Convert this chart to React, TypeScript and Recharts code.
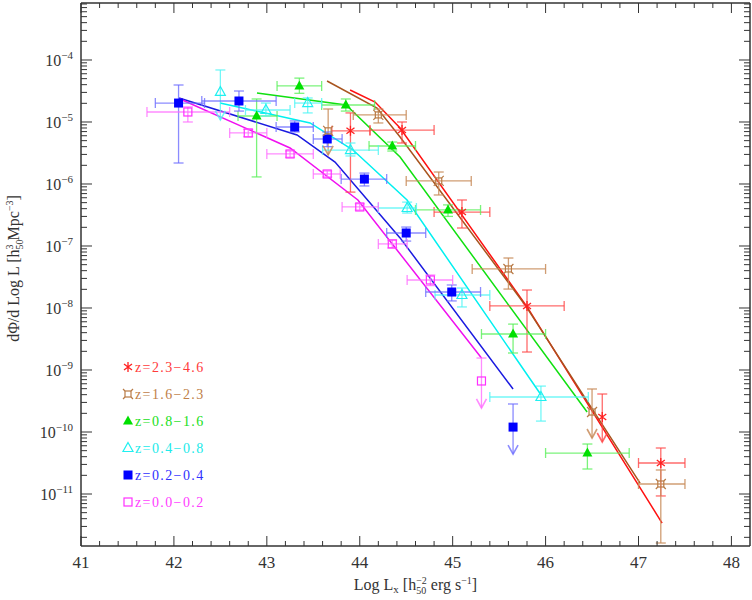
import React from 'react';
import { ComposedChart, Line, Scatter, XAxis, YAxis, ErrorBar, ReferenceLine, Legend } from 'recharts';

const FONT = '"Liberation Serif", "DejaVu Serif", serif';
const AXIS = '#333';

// points: [x, y, xLow, xHigh, yLow, yHigh]
// limits: [x, y, stemTop, arrowTip]
// model:  [x, y]
const magentaPts = [
  [42.15, 1.45e-5, 41.71, 42.6, 1.0e-5, 1.75e-5],
  [42.8, 6.65e-6, 42.6, 43.0, 5.8e-6, 7.6e-6],
  [43.25, 3.05e-6, 43.0, 43.5, 2.7e-6, 3.4e-6],
  [43.65, 1.45e-6, 43.5, 43.79, 1.3e-6, 1.62e-6],
  [44.0, 4.26e-7, 43.81, 44.2, 3.8e-7, 4.8e-7],
  [44.35, 1.08e-7, 44.2, 44.51, 9.3e-8, 1.25e-7],
  [44.76, 2.83e-8, 44.51, 45.0, 2.3e-8, 3.4e-8],
];
const magentaLim = [[45.31, 6.65e-10, 1.56e-9, 2.44e-10]];
const magentaModel = [[42.066, 2.35e-5], [43.25, 3.81e-6], [43.98, 5.52e-7], [45.31, 1.56e-9]];

const bluePts = [
  [42.05, 2.02e-5, 41.8, 42.33, 2.18e-6, 3.95e-5],
  [42.7, 2.18e-5, 42.3, 43.1, 1.5e-5, 3.16e-5],
  [43.3, 8.3e-6, 43.1, 43.5, 6.9e-6, 1.04e-5],
  [43.65, 5.32e-6, 43.5, 43.81, 4.0e-6, 6.9e-6],
  [44.05, 1.2e-6, 43.8, 44.29, 9.3e-7, 1.5e-6],
  [44.5, 1.62e-7, 44.29, 44.71, 1.2e-7, 2.02e-7],
  [44.99, 1.81e-8, 44.71, 45.3, 1.3e-8, 2.35e-8],
];
const blueLim = [[45.65, 1.2e-10, 2.83e-10, 4.4e-11]];
const blueModel = [[42.055, 2.44e-5], [43.325, 6.17e-6], [43.734, 2.26e-6], [44.434, 1.35e-7], [45.65, 4.94e-10]];

const cyanPts = [
  [42.99, 1.56e-5, 42.77, 43.25, 1.25e-5, 2.02e-5],
  [43.44, 2.02e-5, 43.3, 43.59, 1.4e-5, 2.44e-5],
  [43.9, 3.53e-6, 43.6, 44.2, 2.83e-6, 4.58e-6],
  [44.51, 4.1e-7, 44.2, 44.61, 3.4e-7, 5.1e-7],
  [45.1, 1.62e-8, 44.81, 45.4, 1.04e-8, 2.1e-8],
  [45.95, 3.67e-10, 45.4, 46.46, 1.5e-10, 5.5e-10],
];
const cyanLim = [[42.5, 3.05e-5, 6.9e-5, 1.08e-5]];
const cyanModel = [[42.496, 2.02e-5], [43.465, 9.64e-6], [43.928, 3.53e-6], [44.509, 5.52e-7], [45.952, 3.95e-10]];

const greenPts = [
  [42.89, 1.25e-5, 42.69, 43.11, 1.3e-6, 2.35e-5],
  [43.35, 3.81e-5, 43.11, 43.59, 2.9e-5, 5.1e-5],
  [43.85, 1.88e-5, 43.59, 44.16, 1.5e-5, 2.35e-5],
  [44.35, 4.1e-6, 44.1, 44.6, 3.4e-6, 4.75e-6],
  [44.95, 3.81e-7, 44.6, 45.3, 3.0e-7, 4.6e-7],
  [45.65, 3.81e-9, 45.31, 46.0, 1.88e-9, 5.5e-9],
  [46.45, 4.58e-11, 46.0, 46.9, 2.53e-11, 6.4e-11],
];
const greenLim: number[][] = [];
const greenModel = [[42.894, 2.94e-5], [43.853, 1.88e-5], [44.434, 2.72e-6], [46.447, 2.1e-10]];

const brownPts = [
  [44.2, 1.3e-5, 43.93, 44.5, 9.64e-6, 1.62e-5],
  [44.85, 1.12e-6, 44.5, 45.2, 6.65e-7, 1.56e-6],
  [45.6, 4.26e-8, 45.21, 46.0, 2.02e-8, 6.4e-8],
  [47.24, 1.45e-11, 47.0, 47.5, 1.62e-12, 2.44e-11],
];
const brownLim = [[43.66, 7.2e-6, 1.62e-5, 2.94e-6], [46.5, 2.1e-10, 4.94e-10, 8.0e-11]];
const brownModel = [[43.648, 4.58e-5], [44.186, 1.68e-5], [44.434, 5.73e-6], [45.779, 1.12e-8], [47.017, 1.5e-11]];

const redPts = [
  [43.9, 7.2e-6, 43.7, 44.11, 7.4e-7, 1.4e-5],
  [44.455, 7.4e-6, 44.11, 44.8, 4.58e-6, 1.0e-5],
  [45.1, 3.53e-7, 44.8, 45.4, 1.95e-7, 5.52e-7],
  [45.8, 1.08e-8, 45.4, 46.2, 1.95e-9, 1.95e-8],
  [47.24, 3.16e-11, 47.0, 47.5, 9.3e-12, 5.52e-11],
];
const redLim = [[46.61, 1.75e-10, 4.1e-10, 6.9e-11]];
const redModel = [[43.896, 3.28e-5], [44.165, 2.1e-5], [44.434, 8.0e-6], [45.801, 1.04e-8], [47.254, 3.4e-12]];

const labels = ['z=2.3−4.6', 'z=1.6−2.3', 'z=0.8−1.6', 'z=0.4−0.8', 'z=0.2−0.4', 'z=0.0−0.2'];
const xMajorLabels = [41, 42, 43, 44, 45, 46, 47, 48];

const X_DOMAIN = [41, 48.2];
const Y_DOMAIN = [1.45e-12, 8.3e-4];

const series = [
  { name: labels[0], line: '#ff1010', mark: '#ff2020', err: 'rgba(255,70,70,0.8)', text: '#ff3a3a', kind: 'star', pts: redPts, lim: redLim, model: redModel },
  { name: labels[1], line: '#a8541e', mark: '#b87a45', err: 'rgba(200,140,90,0.85)', text: '#c08048', kind: 'boxstar', pts: brownPts, lim: brownLim, model: brownModel },
  { name: labels[2], line: '#10e010', mark: '#00e000', err: 'rgba(90,240,90,0.8)', text: '#20e020', kind: 'tri', pts: greenPts, lim: greenLim, model: greenModel },
  { name: labels[3], line: '#00f0f0', mark: '#20f0f0', err: 'rgba(80,245,245,0.8)', text: '#20eaea', kind: 'openTri', pts: cyanPts, lim: cyanLim, model: cyanModel },
  { name: labels[4], line: '#1a1ae0', mark: '#0000ff', err: 'rgba(110,110,255,0.8)', text: '#3030ff', kind: 'square', pts: bluePts, lim: blueLim, model: blueModel },
  { name: labels[5], line: '#f010f0', mark: '#ff30ff', err: 'rgba(255,110,255,0.8)', text: '#ff40ff', kind: 'openSquare', pts: magentaPts, lim: magentaLim, model: magentaModel },
];

const xTicks = Array.from({ length: 36 }, (_, i) => Math.round((41 + i * 0.2) * 10) / 10);
const yTicks: number[] = [];
for (let e = -12; e <= -4; e++) {
  for (let k = 1; k <= 9; k++) {
    const v = k * Math.pow(10, e);
    if (v >= Y_DOMAIN[0] && v <= Y_DOMAIN[1]) yTicks.push(v);
  }
}

function isMajorLog(v: number) {
  const l = Math.log10(v);
  return Math.abs(l - Math.round(l)) < 1e-6;
}
function isMajorLin(v: number) {
  return Math.abs(v - Math.round(v)) < 1e-6;
}

function Marker({ kind, color, cx, cy }: any) {
  if (cx == null || cy == null) return null;
  switch (kind) {
    case 'openSquare':
      return <rect x={cx - 4} y={cy - 4} width={8} height={8} fill="none" stroke={color} strokeWidth={1.2} />;
    case 'square':
      return <rect x={cx - 4.5} y={cy - 4.5} width={9} height={9} fill={color} />;
    case 'openTri':
      return <path d={`M${cx},${cy - 5.5}L${cx + 5},${cy + 3.5}L${cx - 5},${cy + 3.5}Z`} fill="none" stroke={color} strokeWidth={1.2} />;
    case 'tri':
      return <path d={`M${cx},${cy - 5.5}L${cx + 5},${cy + 3.5}L${cx - 5},${cy + 3.5}Z`} fill={color} />;
    case 'boxstar':
      return (
        <g stroke={color} strokeWidth={1.2} fill="none">
          <rect x={cx - 3} y={cy - 3} width={6} height={6} />
          <path d={`M${cx - 5},${cy - 5}L${cx - 3},${cy - 3}M${cx + 5},${cy - 5}L${cx + 3},${cy - 3}M${cx - 5},${cy + 5}L${cx - 3},${cy + 3}M${cx + 5},${cy + 5}L${cx + 3},${cy + 3}`} />
        </g>
      );
    case 'star':
      return (
        <path d={`M${cx - 4},${cy - 3}L${cx + 4},${cy + 3}M${cx + 4},${cy - 3}L${cx - 4},${cy + 3}M${cx},${cy - 5}L${cx},${cy + 5}`} stroke={color} strokeWidth={1.3} fill="none" />
      );
    default:
      return null;
  }
}

const BottomTick = (p: any) => {
  const { x, y, payload } = p;
  const v = payload.value;
  const major = isMajorLin(v);
  return (
    <g>
      <line x1={x} x2={x} y1={y} y2={y - (major ? 10 : 5)} stroke={AXIS} strokeWidth={1} />
      {major && (
        <text x={x} y={y + 22} textAnchor="middle" fontFamily={FONT} fontSize={17} fill={AXIS}>
          {Math.round(v)}
        </text>
      )}
    </g>
  );
};
const TopTick = (p: any) => {
  const { x, y, payload } = p;
  const major = isMajorLin(payload.value);
  return <line x1={x} x2={x} y1={y} y2={y + (major ? 10 : 5)} stroke={AXIS} strokeWidth={1} />;
};
const LeftTick = (p: any) => {
  const { x, y, payload } = p;
  const v = payload.value;
  const major = isMajorLog(v);
  const e = Math.round(Math.log10(v));
  return (
    <g>
      <line x1={x} x2={x + (major ? 11 : 6)} y1={y} y2={y} stroke={AXIS} strokeWidth={1} />
      {major && (
        <text x={x - 8} y={y + 6} textAnchor="end" fontFamily={FONT} fontSize={16} fill={AXIS}>
          10<tspan dy={-7} fontSize={11}>{'−' + Math.abs(e)}</tspan>
        </text>
      )}
    </g>
  );
};
const RightTick = (p: any) => {
  const { x, y, payload } = p;
  const major = isMajorLog(payload.value);
  return <line x1={x} x2={x - (major ? 11 : 6)} y1={y} y2={y} stroke={AXIS} strokeWidth={1} />;
};

const XTitle = (p: any) => {
  const vb = p.viewBox || { x: 81, y: 546, width: 669 };
  return (
    <text x={vb.x + vb.width / 2} y={vb.y + 44} textAnchor="middle" fontFamily={FONT} fontSize={16} fill={AXIS}>
      Log L<tspan dy={3} fontSize={11}>x</tspan>
      <tspan dy={-3}>{'  [h'}</tspan>
      <tspan dy={4} fontSize={10}>50</tspan>
      <tspan dx={-10} dy={-10} fontSize={10}>−2</tspan>
      <tspan dy={6}> erg s</tspan>
      <tspan dy={-6} fontSize={10}>−1</tspan>
      <tspan dy={6}>]</tspan>
    </text>
  );
};
const YTitle = (p: any) => {
  const vb = p.viewBox || { x: 0, y: 3, height: 543 };
  const cx = vb.x + 19;
  const cy = vb.y + vb.height / 2 - 6;
  return (
    <text x={cx} y={cy} transform={`rotate(-90, ${cx}, ${cy})`} textAnchor="middle" fontFamily={FONT} fontSize={16} fill={AXIS}>
      dΦ/d Log L [h<tspan dy={4} fontSize={10}>50</tspan>
      <tspan dx={-10} dy={-10} fontSize={10}>3</tspan>
      <tspan dy={6}> Mpc</tspan>
      <tspan dy={-6} fontSize={10}>−3</tspan>
      <tspan dy={6}>]</tspan>
    </text>
  );
};

const LegendBox = () => (
  <svg width={130} height={170} style={{ display: 'block' }}>
    {series.map((s, i) => {
      const cy = 12 + 27 * i;
      return (
        <g key={s.name}>
          <Marker kind={s.kind} color={s.mark} cx={10} cy={cy} />
          <text x={17} y={cy + 5} fontFamily={FONT} fontSize={14} letterSpacing={1.4} fill={s.text}>
            {s.name}
          </text>
        </g>
      );
    })}
  </svg>
);

function toPts(arr: number[][]) {
  return arr.map(([x, y, xl, xh, yl, yh]) => ({ x, y, ex: [x - xl, xh - x], ey: [y - yl, yh - y] }));
}
function toXY(arr: number[][]) {
  return arr.map(([x, y]) => ({ x, y }));
}

export default function App() {
  return (
    <div style={{ position: 'absolute', left: 0, top: 0, background: '#fff' }}>
      <ComposedChart width={752} height={600} margin={{ top: 0, right: 0, bottom: 0, left: 0 }}>
        <XAxis xAxisId="b" dataKey="x" type="number" domain={X_DOMAIN} allowDataOverflow ticks={xTicks} interval={0}
          orientation="bottom" height={54} tickSize={0} tickMargin={0} tickLine={false} tick={BottomTick}
          axisLine={{ stroke: AXIS, strokeWidth: 1.5 }} label={<XTitle />} />
        <XAxis xAxisId="t" dataKey="x" type="number" domain={X_DOMAIN} allowDataOverflow ticks={xTicks} interval={0}
          orientation="top" height={3} tickSize={0} tickMargin={0} tickLine={false} tick={TopTick}
          axisLine={{ stroke: AXIS, strokeWidth: 1.5 }} />
        <YAxis yAxisId="l" dataKey="y" type="number" scale="log" domain={Y_DOMAIN} allowDataOverflow ticks={yTicks} interval={0}
          orientation="left" width={81} tickSize={0} tickMargin={0} tickLine={false} tick={LeftTick}
          axisLine={{ stroke: AXIS, strokeWidth: 1.5 }} label={<YTitle />} />
        <YAxis yAxisId="r" dataKey="y" type="number" scale="log" domain={Y_DOMAIN} allowDataOverflow ticks={yTicks} interval={0}
          orientation="right" width={2} tickSize={0} tickMargin={0} tickLine={false} tick={RightTick}
          axisLine={{ stroke: AXIS, strokeWidth: 1.5 }} />

        {series.map((s) => (
          <Line key={'m' + s.name} xAxisId="b" yAxisId="l" data={toXY(s.model)} dataKey="y" type="linear"
            stroke={s.line} strokeWidth={1.5} dot={false} activeDot={false} isAnimationActive={false} legendType="none" />
        ))}

        {series.flatMap((s) =>
          s.lim.map((l, i) => (
            <ReferenceLine key={'st' + s.name + i} xAxisId="b" yAxisId="l" ifOverflow="visible"
              segment={[{ x: l[0], y: l[2] }, { x: l[0], y: l[3] }]} stroke={s.err} strokeWidth={1.3} />
          ))
        )}

        {series.map((s) => (
          <Scatter key={'p' + s.name} xAxisId="b" yAxisId="l" data={toPts(s.pts)} dataKey="y" isAnimationActive={false}
            shape={(p: any) => <Marker kind={s.kind} color={s.mark} cx={p.cx} cy={p.cy} />}>
            <ErrorBar dataKey="ex" direction="x" width={5} stroke={s.err} strokeWidth={1.3} isAnimationActive={false} />
            <ErrorBar dataKey="ey" direction="y" width={5} stroke={s.err} strokeWidth={1.3} isAnimationActive={false} />
          </Scatter>
        ))}

        {series.filter((s) => s.lim.length > 0).map((s) => (
          <Scatter key={'cap' + s.name} xAxisId="b" yAxisId="l" data={s.lim.map((l) => ({ x: l[0], y: l[2] }))} dataKey="y"
            isAnimationActive={false} legendType="none"
            shape={(p: any) => <line x1={p.cx - 5} x2={p.cx + 5} y1={p.cy} y2={p.cy} stroke={s.err} strokeWidth={1.3} />} />
        ))}
        {series.filter((s) => s.lim.length > 0).map((s) => (
          <Scatter key={'tip' + s.name} xAxisId="b" yAxisId="l" data={s.lim.map((l) => ({ x: l[0], y: l[3] }))} dataKey="y"
            isAnimationActive={false} legendType="none"
            shape={(p: any) => <path d={`M${p.cx - 5},${p.cy - 9}L${p.cx},${p.cy}L${p.cx + 5},${p.cy - 9}`} fill="none" stroke={s.err} strokeWidth={1.6} />} />
        ))}
        {series.filter((s) => s.lim.length > 0).map((s) => (
          <Scatter key={'lm' + s.name} xAxisId="b" yAxisId="l" data={s.lim.map((l) => ({ x: l[0], y: l[1] }))} dataKey="y"
            isAnimationActive={false} legendType="none"
            shape={(p: any) => <Marker kind={s.kind} color={s.mark} cx={p.cx} cy={p.cy} />} />
        ))}

        <Legend layout="vertical" align="center" verticalAlign="middle"
          wrapperStyle={{ left: 118, top: 355, width: 130, height: 170 }} content={() => <LegendBox />} />
      </ComposedChart>
    </div>
  );
}
